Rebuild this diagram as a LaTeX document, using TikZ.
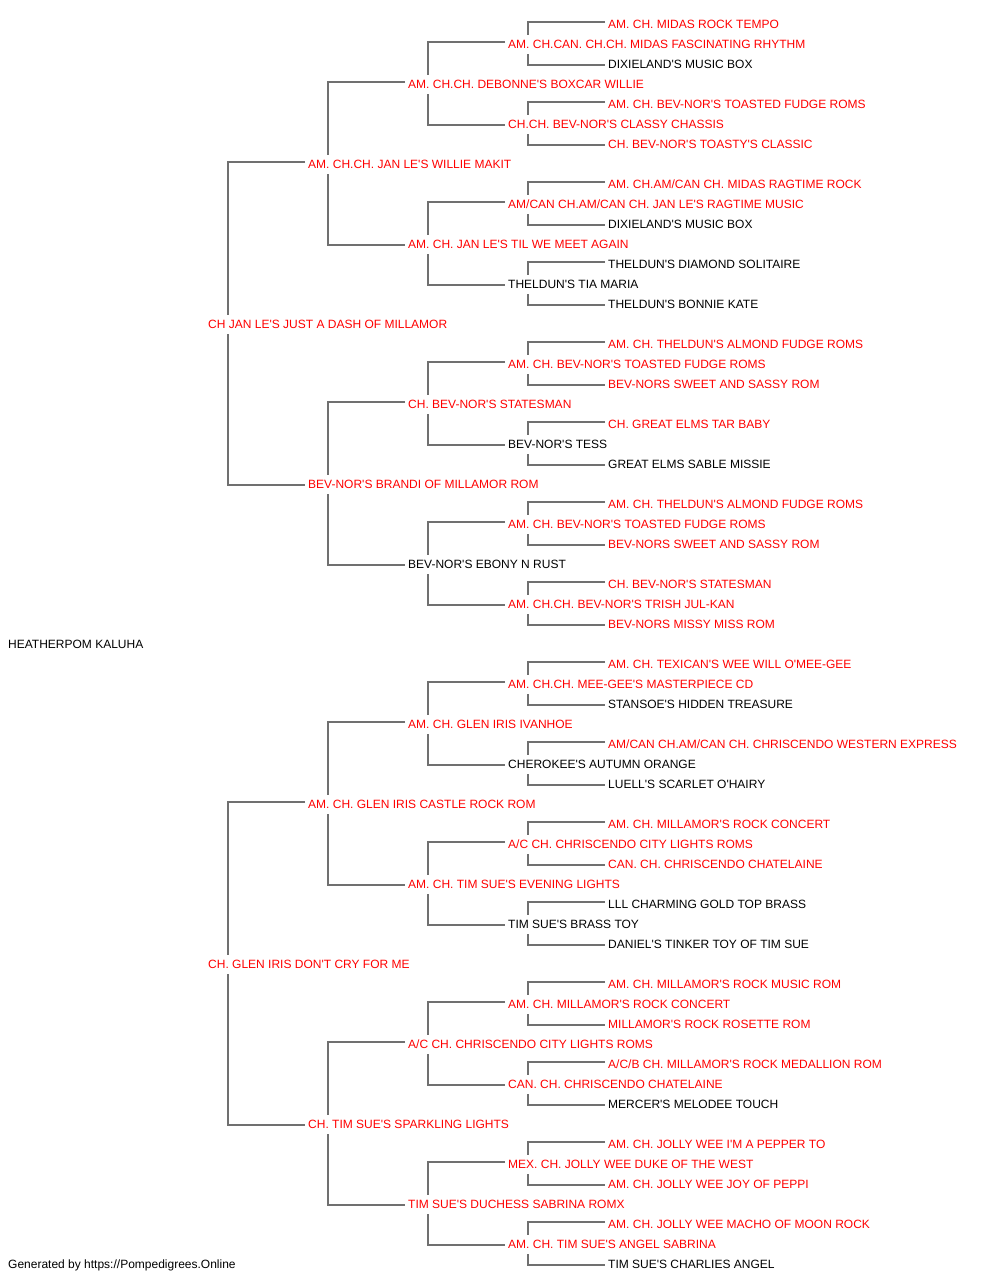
\documentclass[tikz,border=0pt]{standalone}
\usepackage{fontspec}
\usepackage{xcolor}
\newfontfamily\pedfont{Liberation Sans}
\definecolor{champred}{RGB}{255,0,0}
\definecolor{linkgray}{RGB}{112,112,112}

\tikzset{
  dog/.style={anchor=west, inner sep=0pt, text height=8.6pt, text depth=0pt,
    font=\pedfont\fontsize{12pt}{14pt}\selectfont, text=black},
  champ/.style={dog, text=champred},
  link/.style={draw=linkgray, line width=1.3pt}
}

\begin{document}
\begin{tikzpicture}[x=1pt, y=-1pt]
\useasboundingbox (0,0) rectangle (1000,1280);
% Dog itself
\node[dog] (r31) at (8,644) {HEATHERPOM KALUHA};

% Parents, x = 208
\node[champ] (r15) at (208,324) {CH JAN LE'S JUST A DASH OF MILLAMOR};
\node[champ] (r47) at (208,964) {CH. GLEN IRIS DON'T CRY FOR ME};

% Grandparents, x = 308
\node[champ] (r7) at (308,164) {AM. CH.CH. JAN LE'S WILLIE MAKIT};
\node[champ] (r23) at (308,484) {BEV-NOR'S BRANDI OF MILLAMOR ROM};
\node[champ] (r39) at (308,804) {AM. CH. GLEN IRIS CASTLE ROCK ROM};
\node[champ] (r55) at (308,1124) {CH. TIM SUE'S SPARKLING LIGHTS};

% Great-grandparents, x = 408
\node[champ] (r3) at (408,84) {AM. CH.CH. DEBONNE'S BOXCAR WILLIE};
\node[champ] (r11) at (408,244) {AM. CH. JAN LE'S TIL WE MEET AGAIN};
\node[champ] (r19) at (408,404) {CH. BEV-NOR'S STATESMAN};
\node[dog] (r27) at (408,564) {BEV-NOR'S EBONY N RUST};
\node[champ] (r35) at (408,724) {AM. CH. GLEN IRIS IVANHOE};
\node[champ] (r43) at (408,884) {AM. CH. TIM SUE'S EVENING LIGHTS};
\node[champ] (r51) at (408,1044) {A/C CH. CHRISCENDO CITY LIGHTS ROMS};
\node[champ] (r59) at (408,1204) {TIM SUE'S DUCHESS SABRINA ROMX};

% Fourth generation, x = 508
\node[champ] (r1) at (508,44) {AM. CH.CAN. CH.CH. MIDAS FASCINATING RHYTHM};
\node[champ] (r5) at (508,124) {CH.CH. BEV-NOR'S CLASSY CHASSIS};
\node[champ] (r9) at (508,204) {AM/CAN CH.AM/CAN CH. JAN LE'S RAGTIME MUSIC};
\node[dog] (r13) at (508,284) {THELDUN'S TIA MARIA};
\node[champ] (r17) at (508,364) {AM. CH. BEV-NOR'S TOASTED FUDGE ROMS};
\node[dog] (r21) at (508,444) {BEV-NOR'S TESS};
\node[champ] (r25) at (508,524) {AM. CH. BEV-NOR'S TOASTED FUDGE ROMS};
\node[champ] (r29) at (508,604) {AM. CH.CH. BEV-NOR'S TRISH JUL-KAN};
\node[champ] (r33) at (508,684) {AM. CH.CH. MEE-GEE'S MASTERPIECE CD};
\node[dog] (r37) at (508,764) {CHEROKEE'S AUTUMN ORANGE};
\node[champ] (r41) at (508,844) {A/C CH. CHRISCENDO CITY LIGHTS ROMS};
\node[dog] (r45) at (508,924) {TIM SUE'S BRASS TOY};
\node[champ] (r49) at (508,1004) {AM. CH. MILLAMOR'S ROCK CONCERT};
\node[champ] (r53) at (508,1084) {CAN. CH. CHRISCENDO CHATELAINE};
\node[champ] (r57) at (508,1164) {MEX. CH. JOLLY WEE DUKE OF THE WEST};
\node[champ] (r61) at (508,1244) {AM. CH. TIM SUE'S ANGEL SABRINA};

% Fifth generation, x = 608
\node[champ] (r0) at (608,24) {AM. CH. MIDAS ROCK TEMPO};
\node[dog] (r2) at (608,64) {DIXIELAND'S MUSIC BOX};
\node[champ] (r4) at (608,104) {AM. CH. BEV-NOR'S TOASTED FUDGE ROMS};
\node[champ] (r6) at (608,144) {CH. BEV-NOR'S TOASTY'S CLASSIC};
\node[champ] (r8) at (608,184) {AM. CH.AM/CAN CH. MIDAS RAGTIME ROCK};
\node[dog] (r10) at (608,224) {DIXIELAND'S MUSIC BOX};
\node[dog] (r12) at (608,264) {THELDUN'S DIAMOND SOLITAIRE};
\node[dog] (r14) at (608,304) {THELDUN'S BONNIE KATE};
\node[champ] (r16) at (608,344) {AM. CH. THELDUN'S ALMOND FUDGE ROMS};
\node[champ] (r18) at (608,384) {BEV-NORS SWEET AND SASSY ROM};
\node[champ] (r20) at (608,424) {CH. GREAT ELMS TAR BABY};
\node[dog] (r22) at (608,464) {GREAT ELMS SABLE MISSIE};
\node[champ] (r24) at (608,504) {AM. CH. THELDUN'S ALMOND FUDGE ROMS};
\node[champ] (r26) at (608,544) {BEV-NORS SWEET AND SASSY ROM};
\node[champ] (r28) at (608,584) {CH. BEV-NOR'S STATESMAN};
\node[champ] (r30) at (608,624) {BEV-NORS MISSY MISS ROM};
\node[champ] (r32) at (608,664) {AM. CH. TEXICAN'S WEE WILL O'MEE-GEE};
\node[dog] (r34) at (608,704) {STANSOE'S HIDDEN TREASURE};
\node[champ] (r36) at (608,744) {AM/CAN CH.AM/CAN CH. CHRISCENDO WESTERN EXPRESS};
\node[dog] (r38) at (608,784) {LUELL'S SCARLET O'HAIRY};
\node[champ] (r40) at (608,824) {AM. CH. MILLAMOR'S ROCK CONCERT};
\node[champ] (r42) at (608,864) {CAN. CH. CHRISCENDO CHATELAINE};
\node[dog] (r44) at (608,904) {LLL CHARMING GOLD TOP BRASS};
\node[dog] (r46) at (608,944) {DANIEL'S TINKER TOY OF TIM SUE};
\node[champ] (r48) at (608,984) {AM. CH. MILLAMOR'S ROCK MUSIC ROM};
\node[champ] (r50) at (608,1024) {MILLAMOR'S ROCK ROSETTE ROM};
\node[champ] (r52) at (608,1064) {A/C/B CH. MILLAMOR'S ROCK MEDALLION ROM};
\node[dog] (r54) at (608,1104) {MERCER'S MELODEE TOUCH};
\node[champ] (r56) at (608,1144) {AM. CH. JOLLY WEE I'M A PEPPER TO};
\node[champ] (r58) at (608,1184) {AM. CH. JOLLY WEE JOY OF PEPPI};
\node[champ] (r60) at (608,1224) {AM. CH. JOLLY WEE MACHO OF MOON ROCK};
\node[dog] (r62) at (608,1264) {TIM SUE'S CHARLIES ANGEL};

% Footer
\node[dog] (credit) at (8,1264) {Generated by https://Pompedigrees.Online};

% Brackets: parent in row p, sire in row p-d, dam in row p+d
\foreach \d in {1,2,4,8} {
  \pgfmathtruncatemacro\first{2*\d-1}
  \pgfmathtruncatemacro\second{6*\d-1}
  \pgfmathtruncatemacro\last{63-2*\d}
  \foreach \p in {\first,\second,...,\last} {
    \pgfmathtruncatemacro\a{\p-\d}
    \pgfmathtruncatemacro\b{\p+\d}
    \draw[link] ([xshift=-3pt,yshift=2pt]r\a.west) -| ([xshift=20pt,yshift=9pt]r\p.west);
    \draw[link] ([xshift=20pt,yshift=-10pt]r\p.west) |- ([xshift=-3pt,yshift=-1pt]r\b.west);
  }
}
\end{tikzpicture}
\end{document}
